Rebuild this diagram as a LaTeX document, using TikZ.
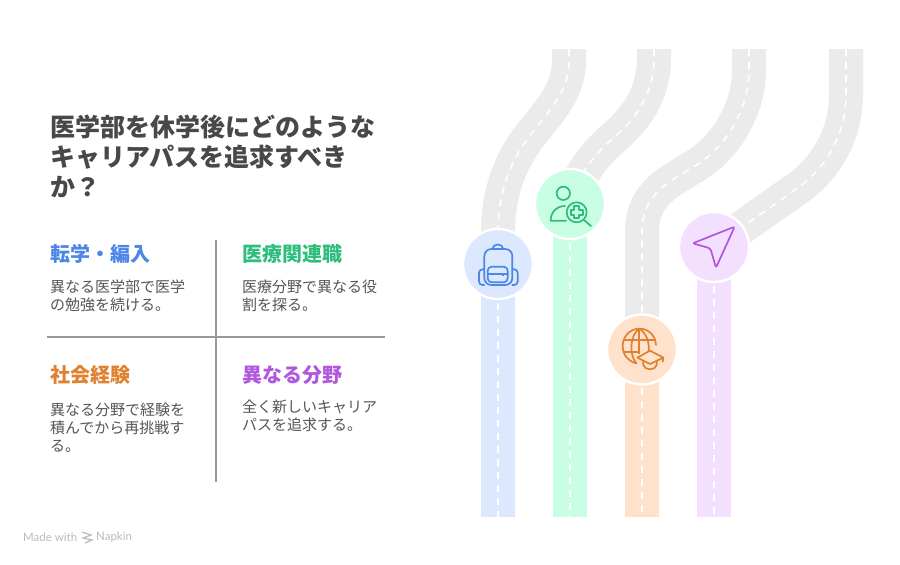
\documentclass[tikz,border=0pt]{standalone}
\usepackage{fontspec}
\setmainfont{Noto Sans CJK JP}
\newfontfamily\latinfont{Lato}
\definecolor{roadgray}{HTML}{EBEBEB}
\definecolor{cblue}{HTML}{DCE8FE}\definecolor{sblue}{HTML}{4C87E8}
\definecolor{cgreen}{HTML}{C9FDE4}\definecolor{sgreen}{HTML}{2DBE7C}
\definecolor{corange}{HTML}{FEE2CB}\definecolor{sorange}{HTML}{E0812F}
\definecolor{cpurple}{HTML}{F3E0FE}\definecolor{spurple}{HTML}{B057DD}
\definecolor{titlec}{HTML}{484848}\definecolor{bodyc}{HTML}{555555}
\definecolor{rulec}{HTML}{999999}\definecolor{markc}{HTML}{BBBBBB}
\tikzset{
  road/.style={line width=34pt,roadgray},
  bar/.style={line width=34pt},
  lane/.style={line width=1.6pt,white,dash pattern=on 7pt off 6pt},
  disc/.style={circle,minimum size=70pt,inner sep=0pt,draw=white,line width=2.4pt},
  heading/.style={anchor=west,inner sep=0pt,font=\fontsize{20}{24}\selectfont\bfseries},
  bodytext/.style={anchor=north west,inner sep=0pt,align=left,text=bodyc,font=\fontsize{15}{18}\selectfont},
  titletext/.style={anchor=north west,inner sep=0pt,align=left,text=titlec,font=\fontsize{25}{29.7}\selectfont\bfseries},
  rulel/.style={line width=2pt,rulec},
  icon/.style={line width=1.7pt,line cap=round,line join=round},
}
\newcommand\roadpair[1]{\draw[road] #1; \draw[lane] #1;}
\begin{document}
\begin{tikzpicture}[x=1pt,y=-1pt]
\useasboundingbox (0,0) rectangle (900,565);
\fill[white] (0,0) rectangle (900,565);
% roads
\roadpair{(569,49) -- (569,60) .. controls (569,90) and (552,108) .. (532,133) .. controls (512,158) and (498,190) .. (498,232) -- (498,264)}
\roadpair{(654,49) -- (654,58) .. controls (654,90) and (640,113) .. (620,132) .. controls (600,150) and (582,165) .. (570,204)}
\roadpair{(749,49) -- (749,70) .. controls (749,110) and (725,148) .. (695,166) -- (680,175) .. controls (655,190) and (642,205) .. (642,232) -- (642,349)}
\roadpair{(846,49) -- (846,95) .. controls (846,135) and (825,170) .. (795,190) -- (714,247)}
% lower bars
\draw[bar,cblue] (498,264) -- (498,517);
\draw[bar,cgreen] (570,204) -- (570,517);
\draw[bar,corange] (642,349) -- (642,517);
\draw[bar,cpurple] (714,247) -- (714,517);
\foreach \xx/\yy in {498/264,570/204,642/349,714/247}
  \draw[lane] (\xx,\yy) -- (\xx,517);
% discs
\node[disc,fill=cblue] (d1) at (498,264) {};
\node[disc,fill=cgreen] (d2) at (570,204) {};
\node[disc,fill=corange] (d3) at (642,349.5) {};
\node[disc,fill=cpurple] (d4) at (714,247) {};
% backpack
\begin{scope}[shift={(455,225)},x=0.3333pt,y=-0.3333pt,icon,draw=sblue]
  \draw[rounded corners=7pt] (88,180) -- (88,72) -- (172,72) -- (172,180) -- cycle;
  \draw (112,72) .. controls (114,54) and (143,54) .. (145,72);
  \draw[rounded corners=4pt] (98,125) rectangle (158,172);
  \draw (98,147) -- (158,147);
  \draw (143,147) -- (143,151);
  \draw[rounded corners=3.5pt] (88,133) -- (72,133) -- (72,180) -- (88,180);
  \draw[rounded corners=3.5pt] (172,133) -- (188,133) -- (188,180) -- (172,180);
\end{scope}
% person with magnifier
\begin{scope}[shift={(530,165)},x=0.3333pt,y=-0.3333pt,icon,draw=sgreen]
  \draw (100,85) circle[radius=20];
  \draw (105,123) .. controls (80,123) and (62,142) .. (62,167) -- (108,167);
  \draw (140,142) circle[radius=30];
  \draw (133,124) -- (147,124) -- (147,135) -- (158,135) -- (158,149) -- (147,149) -- (147,160) -- (133,160) -- (133,149) -- (122,149) -- (122,135) -- (133,135) -- cycle;
  \draw (162,165) -- (183,183);
\end{scope}
% globe with cap
\begin{scope}[shift={(600,310)},x=0.3333pt,y=-0.3333pt,icon,draw=sorange]
  \draw (168,105) .. controls (166,76) and (146,56) .. (118,56) .. controls (90,56) and (68,80) .. (68,108) .. controls (68,135) and (86,155) .. (110,160);
  \draw (118,56) .. controls (88,76) and (88,136) .. (108,158);
  \draw (118,56) .. controls (142,72) and (148,100) .. (146,122);
  \draw (118,56) -- (118,130);
  \draw (72,90) -- (165,90);
  \draw (72,125) -- (118,125);
  \draw (112,143) -- (150,122) -- (190,143) -- (150,162) -- cycle;
  \draw (130,154) -- (130,165) .. controls (132,182) and (168,182) .. (170,165) -- (170,154);
  \draw (190,143) -- (188,155);
\end{scope}
% paper plane
\begin{scope}[shift={(672,205)},x=0.3333pt,y=-0.3333pt,icon,draw=spurple]
  \draw[rounded corners=2pt] (188,65) -- (62,115) -- (115,130) -- (132,188) -- cycle;
\end{scope}
% title and cells
\node[titletext] (title) at (50,115) {医学部を休学後にどのような\\キャリアパスを追求すべき\\か？};
\node[heading,text=sblue] (h1) at (50,254) {転学・編入};
\node[bodytext] (b1) at (50,279.5) {異なる医学部で医学\\の勉強を続ける。};
\node[heading,text=sgreen] (h2) at (242,254) {医療関連職};
\node[bodytext] (b2) at (242,279.5) {医療分野で異なる役\\割を探る。};
\node[heading,text=sorange] (h3) at (50,375) {社会経験};
\node[bodytext] (b3) at (50,402.5) {異なる分野で経験を\\積んでから再挑戦す\\る。};
\node[heading,text=spurple] (h4) at (242,375) {異なる分野};
\node[bodytext] (b4) at (242,399.5) {全く新しいキャリア\\パスを追求する。};
\draw[rulel] (216,240) -- (216,482);
\draw[rulel] (47,337) -- (385,337);
% watermark
\node[anchor=west,inner sep=0pt,text=markc,font=\latinfont\fontsize{11.5}{13}\selectfont] (m1) at (23,537) {Made with};
\node[anchor=west,inner sep=0pt,text=markc,font=\latinfont\fontsize{11.5}{13}\selectfont] (m2) at (96,537) {Napkin};
\draw[markc,line width=1.2pt] (82,532) -- (91,535) -- (83,538) -- (92,540) -- (85,543);
\end{tikzpicture}
\end{document}
